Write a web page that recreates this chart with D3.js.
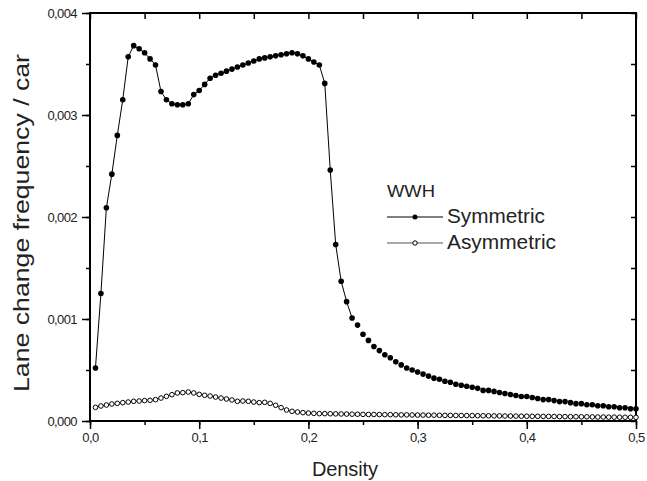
<!DOCTYPE html>
<html>
<head>
<meta charset="utf-8">
<script src="https://cdn.jsdelivr.net/npm/d3@7"></script>
<style>
    body { margin: 0; background: #fff; }
    text { font-family: "Liberation Sans", Arial, sans-serif; fill: #222; }
</style>
</head>
<body>
<div id="chart"></div>
<script>
// densities (cars / site)
const density = [
    0.005, 0.010, 0.015, 0.020, 0.025, 0.030, 0.035, 0.040, 0.045, 0.050,
    0.055, 0.060, 0.065, 0.070, 0.075, 0.080, 0.085, 0.090, 0.095, 0.100,
    0.105, 0.110, 0.115, 0.120, 0.125, 0.130, 0.135, 0.140, 0.145, 0.150,
    0.155, 0.160, 0.165, 0.170, 0.175, 0.180, 0.185, 0.190, 0.195, 0.200,
    0.205, 0.210, 0.215, 0.220, 0.225, 0.230, 0.235, 0.240, 0.245, 0.250,
    0.255, 0.260, 0.265, 0.270, 0.275, 0.280, 0.285, 0.290, 0.295, 0.300,
    0.305, 0.310, 0.315, 0.320, 0.325, 0.330, 0.335, 0.340, 0.345, 0.350,
    0.355, 0.360, 0.365, 0.370, 0.375, 0.380, 0.385, 0.390, 0.395, 0.400,
    0.405, 0.410, 0.415, 0.420, 0.425, 0.430, 0.435, 0.440, 0.445, 0.450,
    0.455, 0.460, 0.465, 0.470, 0.475, 0.480, 0.485, 0.490, 0.495, 0.500
];

const symmetric = [
    0.00052, 0.00125, 0.00209, 0.00242, 0.00280, 0.00315, 0.00357, 0.00368, 0.00365, 0.00361,
    0.00355, 0.00349, 0.00323, 0.00315, 0.00311, 0.00310, 0.00310, 0.00311, 0.00320, 0.00324,
    0.00330, 0.00336, 0.00339, 0.00341, 0.00343, 0.00345, 0.00347, 0.00349, 0.00351, 0.00353,
    0.00355, 0.00356, 0.00357, 0.00358, 0.00359, 0.00360, 0.00361, 0.00360, 0.00358, 0.00355,
    0.00352, 0.00349, 0.00331, 0.00246, 0.00173, 0.00137, 0.00117, 0.00101, 0.00094, 0.00085,
    0.00079, 0.00073, 0.00069, 0.00065, 0.00062, 0.00058, 0.00055, 0.00052, 0.00050, 0.00048,
    0.00046, 0.00044, 0.00042, 0.00041, 0.00039, 0.00038, 0.00036, 0.00035, 0.00034, 0.00033,
    0.00032, 0.00030, 0.00030, 0.00029, 0.00028, 0.00027, 0.00026, 0.00025, 0.00024, 0.00024,
    0.00023, 0.00022, 0.00021, 0.00021, 0.00020, 0.00019, 0.00019, 0.00018, 0.00017, 0.00017,
    0.00016, 0.00016, 0.00015, 0.00015, 0.00014, 0.00014, 0.00013, 0.00013, 0.00012, 0.00012
];

const asymmetric = [
    0.000134, 0.000147, 0.000157, 0.000167, 0.000173, 0.000180, 0.000186, 0.000193, 0.000196, 0.000200,
    0.000203, 0.000209, 0.000225, 0.000242, 0.000258, 0.000275, 0.000278, 0.000284, 0.000275, 0.000261,
    0.000252, 0.000245, 0.000235, 0.000225, 0.000216, 0.000206, 0.000193, 0.000196, 0.000193, 0.000186,
    0.000180, 0.000183, 0.000173, 0.000154, 0.000131, 0.000108, 0.000095, 0.000088, 0.000082, 0.000078,
    0.000075, 0.000072, 0.000072, 0.000071, 0.000070, 0.000069, 0.000068, 0.000067, 0.000066, 0.000065,
    0.000064, 0.000064, 0.000063, 0.000062, 0.000062, 0.000061, 0.000060, 0.000060, 0.000059, 0.000058,
    0.000058, 0.000057, 0.000057, 0.000056, 0.000055, 0.000055, 0.000054, 0.000054, 0.000053, 0.000053,
    0.000052, 0.000051, 0.000051, 0.000050, 0.000050, 0.000049, 0.000049, 0.000048, 0.000047, 0.000047,
    0.000046, 0.000046, 0.000045, 0.000045, 0.000044, 0.000043, 0.000043, 0.000042, 0.000042, 0.000041,
    0.000041, 0.000040, 0.000039, 0.000039, 0.000038, 0.000038, 0.000037, 0.000037, 0.000036, 0.000036
];

const xTicks = [0, 0.1, 0.2, 0.3, 0.4, 0.5];
const yTicks = [0, 0.001, 0.002, 0.003, 0.004];
const legendTitle = "WWH";
const seriesNames = ["Symmetric", "Asymmetric"];
const symLineEnd = 0.24; // connecting line only drawn on the rising part

const width = 647, height = 481;
const margin = {top: 13, right: 11, bottom: 60, left: 90};

const locale = d3.formatLocale({decimal: ",", thousands: ".", grouping: [3], currency: ["", ""]});

const x = d3.scaleLinear()
    .domain([0, 0.5])
    .range([margin.left, width - margin.right]);

const y = d3.scaleLinear()
    .domain([0, 0.004])
    .range([height - margin.bottom, margin.top]);

const svg = d3.select("#chart").append("svg")
    .attr("width", width)
    .attr("height", height);

const halfX = d3.range(0, 0.5001, 0.05);
const halfY = d3.range(0, 0.00401, 0.0005);

// minor ticks (drawn first so the major ones overlap them)
svg.append("g")
    .attr("transform", `translate(0,${height - margin.bottom})`)
    .call(d3.axisBottom(x).tickValues(halfX).tickSize(4).tickFormat(""))
    .call(g => g.select(".domain").remove())
    .call(g => g.selectAll("line").attr("stroke-width", 1.5));

svg.append("g")
    .attr("transform", `translate(${margin.left},0)`)
    .call(d3.axisLeft(y).tickValues(halfY).tickSize(4).tickFormat(""))
    .call(g => g.select(".domain").remove())
    .call(g => g.selectAll("line").attr("stroke-width", 1.5));

// top / right inner ticks
svg.append("g")
    .attr("transform", `translate(0,${margin.top})`)
    .call(d3.axisBottom(x).tickValues(halfX).tickSize(6).tickFormat(""))
    .call(g => g.select(".domain").remove())
    .call(g => g.selectAll("line").attr("stroke-width", 1.5));

svg.append("g")
    .attr("transform", `translate(${width - margin.right},0)`)
    .call(d3.axisLeft(y).tickValues(halfY).tickSize(5).tickFormat(""))
    .call(g => g.select(".domain").remove())
    .call(g => g.selectAll("line").attr("stroke-width", 1.5));

// major axes
svg.append("g")
    .attr("transform", `translate(0,${height - margin.bottom})`)
    .call(d3.axisBottom(x).tickValues(xTicks).tickSize(8).tickPadding(4).tickFormat(locale.format(".1f")))
    .call(g => g.select(".domain").remove())
    .call(g => g.selectAll("line").attr("stroke-width", 1.5))
    .call(g => g.selectAll("text").attr("font-size", 13).attr("letter-spacing", -0.6)
        .attr("font-family", "Liberation Sans").attr("fill", "#222"));

svg.append("g")
    .attr("transform", `translate(${margin.left},0)`)
    .call(d3.axisLeft(y).tickValues(yTicks).tickSize(8).tickPadding(5).tickFormat(locale.format(".3f")))
    .call(g => g.select(".domain").remove())
    .call(g => g.selectAll("line").attr("stroke-width", 1.5))
    .call(g => g.selectAll("text").attr("font-size", 13).attr("letter-spacing", -0.6)
        .attr("font-family", "Liberation Sans").attr("fill", "#222"));

// frame
svg.append("rect")
    .attr("x", margin.left)
    .attr("y", margin.top)
    .attr("width", width - margin.left - margin.right)
    .attr("height", height - margin.top - margin.bottom)
    .attr("fill", "none")
    .attr("stroke", "#000")
    .attr("stroke-width", 2);

// axis titles
svg.append("text")
    .attr("x", 312)
    .attr("y", 476)
    .attr("font-size", 20)
    .attr("textLength", 66)
    .attr("lengthAdjust", "spacing")
    .text("Density");

svg.append("text")
    .attr("transform", "translate(29,392) rotate(-90)")
    .attr("font-size", 22)
    .attr("textLength", 338)
    .attr("lengthAdjust", "spacingAndGlyphs")
    .text("Lane change frequency / car");

const symData = density.map((d, i) => ({x: d, y: symmetric[i]}));
const asymData = density.map((d, i) => ({x: d, y: asymmetric[i]}));

const line = d3.line()
    .x(d => x(d.x))
    .y(d => y(d.y));

svg.append("path")
    .datum(asymData)
    .attr("fill", "none")
    .attr("stroke", "#555")
    .attr("stroke-width", 1)
    .attr("d", line);

svg.append("path")
    .datum(symData.filter(d => d.x <= symLineEnd + 1e-9))
    .attr("fill", "none")
    .attr("stroke", "#000")
    .attr("stroke-width", 1)
    .attr("d", line);

svg.append("g")
    .selectAll("circle")
    .data(asymData)
    .join("circle")
    .attr("cx", d => x(d.x))
    .attr("cy", d => y(d.y))
    .attr("r", 2.3)
    .attr("fill", "#fff")
    .attr("stroke", "#000")
    .attr("stroke-width", 1);

svg.append("g")
    .selectAll("circle")
    .data(symData)
    .join("circle")
    .attr("cx", d => x(d.x))
    .attr("cy", d => y(d.y))
    .attr("r", 2.8)
    .attr("fill", "#000");

// legend
const legend = svg.append("g")
    .attr("transform", "translate(387,0)");

legend.append("text")
    .attr("x", 0)
    .attr("y", 197)
    .attr("font-size", 17)
    .attr("textLength", 48)
    .attr("lengthAdjust", "spacingAndGlyphs")
    .text(legendTitle);

const rows = legend.selectAll("g.row")
    .data(seriesNames)
    .join("g")
    .attr("class", "row")
    .attr("transform", (d, i) => `translate(0,${217 + i * 26})`);

rows.append("line")
    .attr("x1", 0)
    .attr("x2", 56)
    .attr("stroke", (d, i) => i === 0 ? "#000" : "#555")
    .attr("stroke-width", 1.2);

rows.append("circle")
    .attr("cx", 28)
    .attr("r", (d, i) => i === 0 ? 2.5 : 2.2)
    .attr("fill", (d, i) => i === 0 ? "#000" : "#fff")
    .attr("stroke", "#000")
    .attr("stroke-width", (d, i) => i === 0 ? 0 : 1);

rows.append("text")
    .attr("x", 60)
    .attr("y", 6)
    .attr("font-size", 20)
    .attr("textLength", (d, i) => i === 0 ? 98 : 109)
    .attr("lengthAdjust", "spacingAndGlyphs")
    .text(d => d);
</script>
</body>
</html>
